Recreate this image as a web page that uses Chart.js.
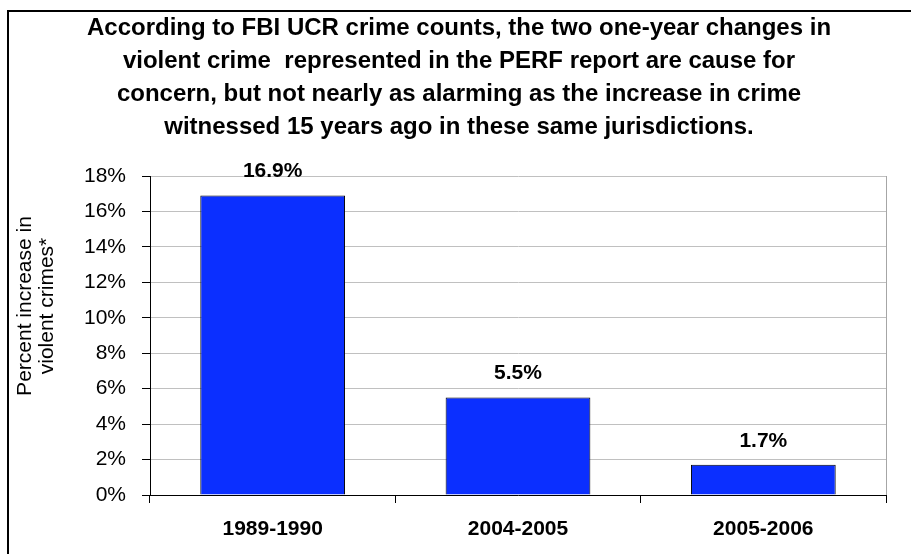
<!DOCTYPE html>
<html>
<head>
<meta charset="utf-8">
<script src="https://cdn.jsdelivr.net/npm/chart.js@4.4.1/dist/chart.umd.min.js"></script>
<style>
  html, body { margin: 0; padding: 0; background: #fff; }
  #wrap { width: 911px; height: 554px; position: relative; }
</style>
</head>
<body>
<div id="wrap"><canvas id="barChart"></canvas></div>
<script>
// Dados do gráfico
const categories = ['1989-1990', '2004-2005', '2005-2006'];
const increases = [16.9, 5.5, 1.7];
const yTicks = [0, 2, 4, 6, 8, 10, 12, 14, 16, 18];
const titleLines = [
    'According to FBI UCR crime counts, the two one-year changes in',
    'violent crime  represented in the PERF report are cause for',
    'concern, but not nearly as alarming as the increase in crime',
    'witnessed 15 years ago in these same jurisdictions.'
];
const yTitleLines = ['Percent increase in', 'violent crimes*'];

const FONT = "'Liberation Sans', Arial, sans-serif";

// Moldura externa + borda cinza do plot
const framePlugin = {
    id: 'frame',
    beforeDraw(chart) {
        const ctx = chart.ctx;
        ctx.save();
        ctx.fillStyle = '#fff';
        ctx.fillRect(0, 0, chart.width, chart.height);
        ctx.strokeStyle = '#000';
        ctx.lineWidth = 2;
        ctx.beginPath();
        ctx.moveTo(8, chart.height);
        ctx.lineTo(8, 11);
        ctx.lineTo(chart.width, 11);
        ctx.stroke();
        ctx.restore();
    },
    beforeDatasetsDraw(chart) {
        const a = chart.chartArea;
        const ctx = chart.ctx;
        ctx.save();
        ctx.strokeStyle = '#a6a6a6';
        ctx.lineWidth = 1;
        ctx.beginPath();
        ctx.moveTo(Math.round(a.right) + 0.5, a.top);
        ctx.lineTo(Math.round(a.right) + 0.5, a.bottom);
        ctx.stroke();
        ctx.restore();
    },
    afterDraw(chart) {
        // título do eixo Y (duas linhas, rotacionado)
        const ctx = chart.ctx;
        ctx.save();
        ctx.fillStyle = '#000';
        ctx.font = '21px ' + FONT;
        ctx.textAlign = 'center';
        ctx.textBaseline = 'middle';
        yTitleLines.forEach((line, i) => {
            ctx.save();
            ctx.translate(25 + i * 22, 306);
            ctx.rotate(-Math.PI / 2);
            ctx.fillText(line, 0, 0);
            ctx.restore();
        });
        ctx.restore();
    }
};

// Rótulos de valor acima das barras
const valueLabels = {
    id: 'valueLabels',
    afterDatasetsDraw(chart) {
        const ctx = chart.ctx;
        const meta = chart.getDatasetMeta(0);
        ctx.save();
        ctx.fillStyle = '#000';
        ctx.font = 'bold 21px ' + FONT;
        ctx.textAlign = 'center';
        ctx.textBaseline = 'middle';
        meta.data.forEach((bar, i) => {
            ctx.fillText(increases[i].toFixed(1) + '%', bar.x, bar.y - 24);
        });
        ctx.restore();
    }
};

const barCtx = document.getElementById('barChart');
const barChart = new Chart(barCtx, {
    type: 'bar',
    data: {
        labels: categories,
        datasets: [{
            data: increases,
            backgroundColor: '#0B2FFF',
            borderColor: '#000',
            borderWidth: 1,
            barPercentage: 0.59,
            categoryPercentage: 1
        }]
    },
    options: {
        responsive: true,
        maintainAspectRatio: false,
        animation: false,
        devicePixelRatio: 1,
        layout: { padding: { left: 32, right: 25, top: 0, bottom: 0 } },
        plugins: {
            legend: { display: false },
            tooltip: { enabled: false },
            title: {
                display: true,
                text: titleLines,
                color: '#000',
                font: { family: FONT, size: 24, weight: 'bold', lineHeight: 33 / 24 },
                padding: { top: 12, bottom: 32 }
            }
        },
        scales: {
            y: {
                min: 0,
                max: 18,
                afterFit(scale) { scale.width = 118; },
                afterBuildTicks(scale) { scale.ticks = yTicks.map(v => ({ value: v })); },
                ticks: {
                    callback: v => v + '%',
                    color: '#000',
                    padding: 16,
                    font: { family: FONT, size: 21 }
                },
                grid: {
                    color: '#c0c0c0',
                    tickColor: '#000',
                    tickLength: 8
                },
                border: { color: '#000', width: 1 }
            },
            x: {
                afterFit(scale) { scale.height = 59; },
                ticks: {
                    color: '#000',
                    padding: 14,
                    font: { family: FONT, size: 21, weight: 'bold' }
                },
                grid: {
                    drawOnChartArea: false,
                    offset: true,
                    tickColor: '#000',
                    tickLength: 8
                },
                border: { color: '#000', width: 1 }
            }
        }
    },
    plugins: [framePlugin, valueLabels]
});
</script>
</body>
</html>
